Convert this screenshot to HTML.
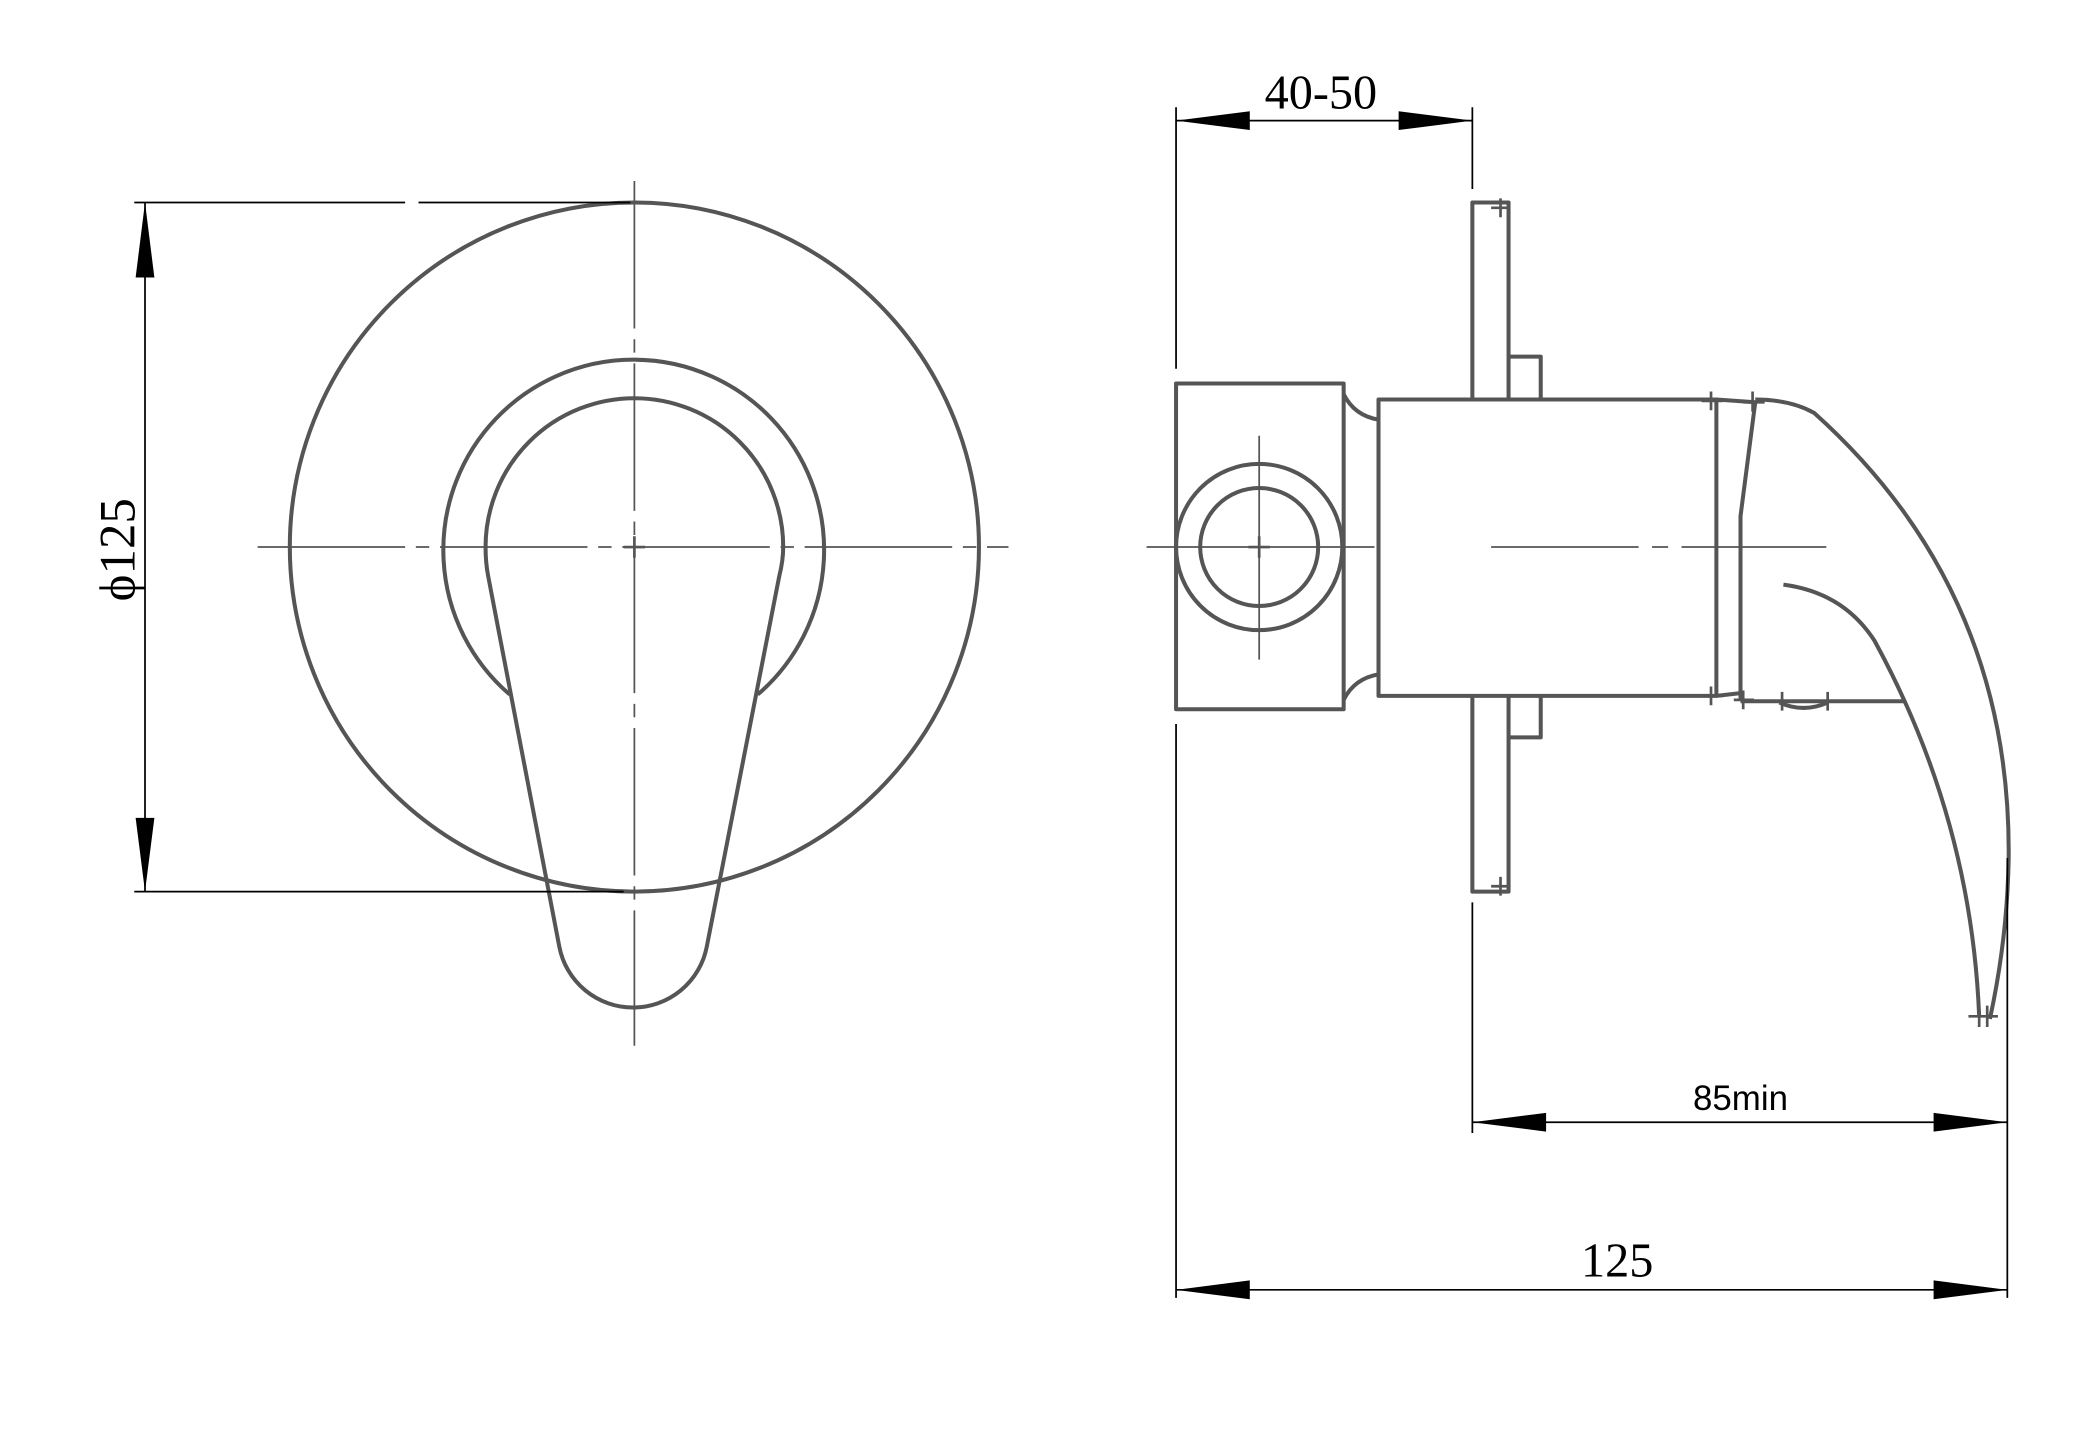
<!DOCTYPE html>
<html><head><meta charset="utf-8"><style>
html,body{margin:0;padding:0;background:#fff;}
svg{display:block;}
</style></head><body>
<svg width="2092" height="1444" viewBox="0 0 1560 1077" xmlns="http://www.w3.org/2000/svg">
<rect width="1560" height="1077" fill="#fff"/>
<g fill="none" stroke="#555" stroke-width="3" stroke-linejoin="round">
  <!-- LEFT VIEW -->
  <circle cx="473" cy="408" r="257"/>
  <path d="M380 518 A142 142 0 1 1 565 518"/>
  <path d="M362 408 A111 111 0 1 1 584 408"/>
  <path d="M362 408 Q362 420 364 430 L417 706 A56 56 0 0 0 527 706 L581 430 Q584 418 584 408"/>
  <!-- RIGHT VIEW -->
  <path d="M1098 298 V151 H1125 V298"/>
  <path d="M1098 519 V665 H1125 V519"/>
  <path d="M1125 266 H1149 V298"/>
  <path d="M1125 550 H1149 V519"/>
  <rect x="877" y="286" width="125" height="243"/>
  <circle cx="939" cy="408" r="62"/>
  <circle cx="939" cy="408" r="44"/>
  <path d="M1002 294 Q1010 310 1028 313"/>
  <path d="M1002 522 Q1010 506 1028 503"/>
  <rect x="1028" y="298" width="252" height="221"/>
  <path d="M1280 298 L1309 300 L1298 385 V522"/>
  <path d="M1280 519 L1298 517"/>
  <path d="M1298 523 H1420"/>
  <path d="M1327 524 Q1345 532 1363 524"/>
  <path d="M1309 298 Q1335 298 1353 308 Q1500 440 1498 640 Q1497 700 1484 760"/>
  <path d="M1330 436 Q1375 442 1398 478 Q1470 610 1476 758"/>
</g>
<g stroke="#555" stroke-width="2" fill="none">
  <path d="M1119 148 V162 M1112 155 H1126"/>
  <path d="M1119 654 V668 M1112 661 H1126"/>
  <path d="M1276 292 V306 M1269 299 H1285"/>
  <path d="M1276 512 V526 M1269 519 H1285"/>
  <path d="M1307 292 V307 M1300 300 H1316"/>
  <path d="M1300 515 V529 M1293 522 H1308"/>
  <path d="M1329 516 V530 M1363 516 V530"/>
  <path d="M1476 750 V766 M1468 758 H1490 M1482 750 V766"/>
  <path d="M939 400 V416 M931 408 H947"/>
  <path d="M473 400 V416 M465 408 H481"/>
</g>
<g stroke="#555" stroke-width="1.3" fill="none">
  <path d="M192 408 H752" stroke-dasharray="110 8 10 8"/>
  <path d="M473 135 V780" stroke-dasharray="110 8 10 8"/>
  <path d="M855 408 H1025"/>
  <path d="M939 325 V492"/>
  <path d="M1112 408 H1362" stroke-dasharray="110 10 12 10"/>
</g>
<g stroke="#000" stroke-width="1.3" fill="none">
  <path d="M108 151 V665"/>
  <path d="M100 151 H302 M312 151 H470"/>
  <path d="M100 665 H465"/>
  <path d="M877 90 H1098"/>
  <path d="M877 80 V275 M877 540 V968"/>
  <path d="M1098 80 V141 M1098 673 V845"/>
  <path d="M1497 640 V968"/>
  <path d="M1098 837 H1497"/>
  <path d="M877 962 H1497"/>
</g>
<g fill="#000">
  <polygon points="108,151 101,207 115,207"/>
  <polygon points="108,665 101,610 115,610"/>
  <polygon points="877,90 932,83 932,97"/>
  <polygon points="1098,90 1043,83 1043,97"/>
  <polygon points="1098,837 1153,830 1153,844"/>
  <polygon points="1497,837 1442,830 1442,844"/>
  <polygon points="877,962 932,955 932,969"/>
  <polygon points="1497,962 1442,955 1442,969"/>
</g>
<g fill="#000">
  <text x="985" y="81" font-family="Liberation Serif, serif" font-size="36" text-anchor="middle">40-50</text>
  <text x="1298" y="828" font-family="Liberation Sans, sans-serif" font-size="26" text-anchor="middle">85min</text>
  <text x="1206" y="952" font-family="Liberation Serif, serif" font-size="36" text-anchor="middle">125</text>
  <text transform="translate(100,410) rotate(-90)" font-family="Liberation Serif, serif" font-size="38" text-anchor="middle">ϕ125</text>
</g>
</svg>
</body></html>
